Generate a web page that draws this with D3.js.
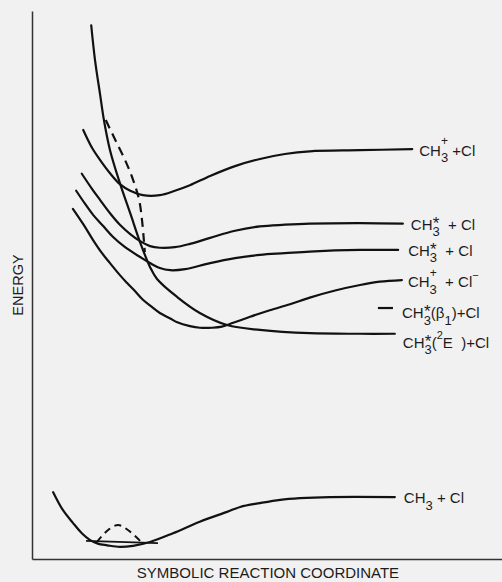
<!DOCTYPE html>
<html><head><meta charset="utf-8">
<script src="https://cdn.jsdelivr.net/npm/d3@7"></script>
<style>
html,body{margin:0;padding:0;background:#f1f1f1;}
svg{display:block;}
text{font-family:"Liberation Sans", Arial, sans-serif; fill:#1c1c1c;}
</style></head><body>
<div id="chart"></div>
<script>
// ---- data: [reaction coordinate, energy] (arbitrary units, 0..100) ----
const repulsive2E = [[12.6,97.4],[13.4,91.1],[14.5,84.7],[15.3,80.1],[16.6,74.6],[18.7,68.6],[20.9,63.1],[23.0,57.8],[25.1,53.3],[26.6,51.1],[30.9,47.8],[35.7,44.9],[41.5,42.7],[48.5,41.8],[59.1,41.2],[69.8,41.1],[77.2,41.1]];
const cationCl = [[10.9,78.3],[12.8,75.0],[14.5,72.8],[16.6,70.4],[18.7,68.4],[20.9,67.2],[23.6,66.4],[27.2,66.4],[30.4,67.2],[33.6,68.2],[37.9,69.9],[43.2,71.7],[48.5,73.0],[53.8,73.9],[59.1,74.4],[69.8,74.6],[80.9,74.8]];
const starUpper = [[10.6,70.3],[12.8,67.5],[14.5,65.5],[16.6,63.1],[18.7,61.0],[20.9,59.3],[23.0,58.0],[25.1,57.1],[27.2,56.8],[30.4,56.9],[33.6,57.5],[37.9,58.6],[43.2,59.9],[48.5,60.7],[53.8,61.0],[59.1,61.2],[69.8,61.3],[78.9,61.2]];
const starLower = [[9.4,67.2],[11.3,64.8],[13.0,62.8],[15.1,60.8],[17.2,58.8],[19.8,56.9],[23.0,55.1],[25.1,54.0],[27.2,53.1],[29.4,52.7],[32.6,52.9],[37.9,54.0],[43.2,54.9],[48.5,55.5],[53.8,55.8],[59.1,56.1],[69.8,56.4],[77.9,56.4]];
const ionPair = [[8.7,63.9],[10.9,61.1],[13.0,58.2],[14.9,55.8],[16.6,54.0],[18.7,51.8],[20.2,50.4],[21.9,48.9],[23.6,47.3],[25.5,46.0],[27.2,44.9],[29.4,43.9],[30.9,43.2],[33.6,42.5],[35.7,42.2],[38.3,42.2],[40.4,42.4],[42.8,43.1],[46.4,44.2],[50.6,45.4],[54.9,46.5],[59.1,47.7],[64.5,49.0],[69.8,50.0],[74.0,50.6],[78.7,50.9]];
const dashedCrossing = [[15.7,80.1],[17.7,76.5],[19.8,72.8],[21.5,69.2],[22.8,65.5],[23.4,61.9],[23.8,58.2],[24.0,56.0]];
const beta1Level = [[73.6,45.8],[76.8,45.8]];
const groundCurve = [[4.5,12.2],[6.6,8.9],[8.7,6.6],[10.6,4.7],[12.3,3.5],[14.0,2.8],[16.0,2.5],[18.7,2.2],[21.5,2.4],[25.1,3.1],[30.0,4.7],[35.7,6.8],[41.5,8.6],[44.3,9.5],[48.5,10.2],[52.8,10.8],[57.0,11.1],[63.4,11.3],[77.2,11.3]];
const groundBarrier = [[13.8,3.1],[16.2,5.3],[18.3,6.2],[20.4,5.3],[23.0,3.3]];
const tunnelArrow = [[11.5,3.3],[26.8,2.9]];

// ---- label text tokens ----
const labelCation = [{t:"CH"},{t:"3",sub:1,over:"+"},{t:" +Cl"}];
const labelStarUpper = [{t:"CH"},{t:"3",sub:1,over:"*"},{t:"  + Cl"}];
const labelStarLower = [{t:"CH"},{t:"3",sub:1,over:"*"},{t:"  + Cl"}];
const labelIonPair = [{t:"CH"},{t:"3",sub:1,over:"+"},{t:"  + Cl"},{t:"\u2212",sup:1}];
const labelBeta = [{t:"CH"},{t:"3",sub:1,over:"*"},{t:"(\u03b2"},{t:"1",sub:1},{t:")+Cl"}];
const label2E = [{t:"CH"},{t:"3",sub:1,over:"*"},{t:"("},{t:"2",sup:1},{t:"E  )+Cl"}];
const labelGround = [{t:"CH"},{t:"3",sub:1},{t:" + Cl"}];
const axisTitleX = "SYMBOLIC REACTION COORDINATE";
const axisTitleY = "ENERGY";

// ---- layout ----
const W = 502, H = 582;
const svg = d3.select("#chart").append("svg").attr("width", W).attr("height", H);
svg.append("rect").attr("width", W).attr("height", H).attr("fill", "#f1f1f1");
const x = d3.scaleLinear().domain([0,100]).range([32,502]);
const y = d3.scaleLinear().domain([0,100]).range([559,11]);

svg.append("g").attr("transform","translate(32,0)").call(d3.axisLeft(y).tickValues([]).tickSizeOuter(0));
svg.append("g").attr("transform","translate(0,559)").call(d3.axisBottom(x).tickValues([]).tickSizeOuter(0));
svg.selectAll(".domain").attr("stroke","#333").attr("stroke-width",1.5);

const line = d3.line().x(d=>x(d[0])).y(d=>y(d[1])).curve(d3.curveCatmullRom.alpha(0.5));
const straight = d3.line().x(d=>x(d[0])).y(d=>y(d[1]));
const solid = [repulsive2E, cationCl, starUpper, starLower, ionPair, groundCurve];
svg.append("g").selectAll("path").data(solid).join("path")
  .attr("d", line).attr("fill","none").attr("stroke","#111").attr("stroke-width",2.2)
  .attr("stroke-linecap","round");
svg.append("path").attr("d", line(dashedCrossing)).attr("fill","none").attr("stroke","#111")
  .attr("stroke-width",2.2).attr("stroke-dasharray","9,6");
svg.append("path").attr("d", line(groundBarrier)).attr("fill","none").attr("stroke","#111")
  .attr("stroke-width",2).attr("stroke-dasharray","7,5");
svg.append("path").attr("d", straight(beta1Level)).attr("fill","none")
  .attr("stroke","#111").attr("stroke-width",2.2);
svg.append("path").attr("d", straight(tunnelArrow)).attr("fill","none")
  .attr("stroke","#111").attr("stroke-width",1.8);

function drawLabel(anchor, dx, dy, tokens) {
  const x0 = x(anchor[0]) + dx, yb = y(anchor[1]) + dy;
  const text = svg.append("text").attr("font-size",15).style("white-space","pre");
  let cx = x0;
  tokens.forEach(tok => {
    let fs = 15, off = 0;
    if (tok.sub) { fs = 13; off = 6.5; }
    if (tok.sup) { fs = 11; off = -8.5; }
    const ts = text.append("tspan").attr("x", cx).attr("y", yb + off).attr("font-size", fs).text(tok.t);
    const w = ts.node().getComputedTextLength();
    if (tok.over) {
      const star = tok.over === "*";
      const os = text.append("tspan").attr("font-size", star ? 17 : 12).text(tok.over);
      const ow = os.node().getComputedTextLength();
      os.attr("x", cx + w/2 - ow/2).attr("y", star ? yb - 1 : yb - 10.5);
    }
    cx += w;
  });
}
const last = a => a[a.length-1];
drawLabel(last(cationCl), 7, 6.5, labelCation);
drawLabel(last(starUpper), 8, 6, labelStarUpper);
drawLabel(last(starLower), 10, 6, labelStarLower);
drawLabel(last(ionPair), 6, 7, labelIonPair);
drawLabel(last(beta1Level), 9, 10, labelBeta);
drawLabel(last(repulsive2E), 8, 14, label2E);
drawLabel(last(groundCurve), 9, 6, labelGround);

svg.append("text").attr("x", 268).attr("y", 578).attr("text-anchor","middle").attr("font-size",15)
  .text(axisTitleX);
svg.append("text").attr("transform","translate(23,285) rotate(-90)").attr("text-anchor","middle")
  .attr("font-size",14.5).text(axisTitleY);
</script>
</body></html>
